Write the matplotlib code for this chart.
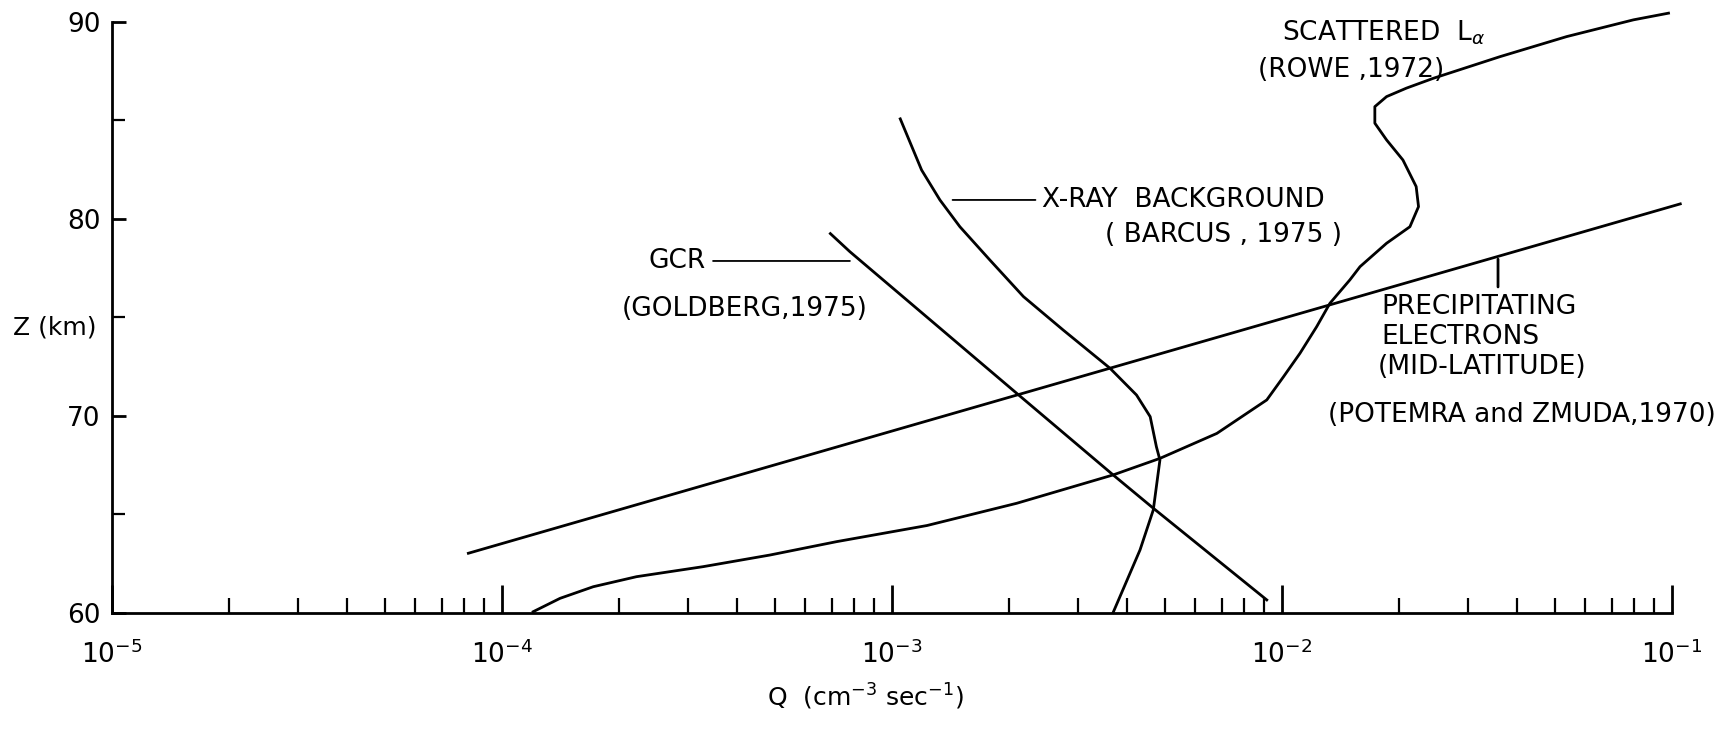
import matplotlib.pyplot as plt
from matplotlib import font_manager
from matplotlib.ticker import FixedLocator, NullFormatter

# Data
precip_q = [8.20e-5, 1.180e-3, 3.62e-3, 1.05e-1]
precip_z = [63.01, 69.63, 72.41, 80.76]

gcr_q = [6.95e-4, 7.80e-4, 2.11e-3, 3.69e-3, 4.67e-3, 9.14e-3]
gcr_z = [79.25, 78.33, 71.06, 66.99, 65.31, 60.64]

xray_q = [1.050e-3, 1.191e-3, 1.327e-3, 1.493e-3, 1.782e-3, 2.173e-3, 2.748e-3,
          3.622e-3, 4.236e-3, 4.592e-3, 4.764e-3, 4.864e-3, 4.677e-3, 4.325e-3, 3.690e-3]
xray_z = [85.08, 82.48, 80.96, 79.60, 77.91, 76.05, 74.35,
          72.41, 71.05, 69.95, 68.42, 67.75, 65.21, 63.18, 60.0]

lya_q = [1.202e-4, 1.409e-4, 1.714e-4, 2.213e-4, 3.281e-4, 4.864e-4, 7.211e-4,
         1.230e-3, 2.089e-3, 3.690e-3, 4.864e-3, 6.808e-3, 9.141e-3, 1.009e-2,
         1.112e-2, 1.227e-2, 1.327e-2, 1.493e-2, 1.585e-2, 1.854e-2, 2.128e-2,
         2.239e-2, 2.208e-2, 2.042e-2, 1.854e-2, 1.730e-2, 1.730e-2, 1.854e-2,
         2.084e-2, 2.443e-2, 3.622e-2, 5.370e-2, 7.962e-2, 9.795e-2]
lya_z = [60.04, 60.72, 61.31, 61.82, 62.33, 62.92, 63.60,
         64.42, 65.55, 66.99, 67.83, 69.10, 70.80, 71.98,
         73.17, 74.52, 75.71, 76.90, 77.57, 78.76, 79.60,
         80.62, 81.64, 82.99, 84.01, 84.86, 85.70, 86.21,
         86.64, 87.14, 88.24, 89.26, 90.11, 90.45]

x_major = [1e-5, 1e-4, 1e-3, 1e-2, 1e-1]
x_labels = ['$10^{-5}$', '$10^{-4}$', '$10^{-3}$', '$10^{-2}$', '$10^{-1}$']
y_major = [60, 70, 80, 90]
y_minor = [65, 75, 85]

# narrow lettering if available
names = {f.name for f in font_manager.fontManager.ttflist}
lettering = 'Liberation Sans Narrow' if 'Liberation Sans Narrow' in names else 'DejaVu Sans'

fig = plt.figure(figsize=(17.2, 7.29), dpi=100)
ax = fig.add_axes([0.0651, 0.1598, 0.907, 0.810])

lw = 2.0
for q, z in [(precip_q, precip_z), (gcr_q, gcr_z), (xray_q, xray_z), (lya_q, lya_z)]:
    ax.plot(q, z, color='black', lw=lw, clip_on=False, solid_joinstyle='round')

ax.set_xscale('log')
ax.set_xlim(1e-5, 1e-1)
ax.set_ylim(60, 90)

for s in ['top', 'right']:
    ax.spines[s].set_visible(False)
for s in ['left', 'bottom']:
    ax.spines[s].set_linewidth(2.0)

minor_x = [m * d for d in [1e-5, 1e-4, 1e-3, 1e-2] for m in range(2, 10)]
ax.xaxis.set_major_locator(FixedLocator(x_major))
ax.xaxis.set_minor_locator(FixedLocator(minor_x))
ax.set_xticklabels(x_labels)
ax.xaxis.set_minor_formatter(NullFormatter())
ax.set_yticks(y_major)
ax.set_yticks(y_minor, minor=True)
ax.set_yticklabels([str(v) for v in y_major])

ax.tick_params(axis='x', which='major', direction='in', length=20, width=2.0, pad=20, labelsize=19)
ax.tick_params(axis='x', which='minor', direction='in', length=11, width=1.6)
ax.tick_params(axis='y', which='major', direction='in', length=10, width=2.0, pad=8, labelsize=19)
ax.tick_params(axis='y', which='minor', direction='in', length=9, width=1.6)

ax.set_ylabel('Z (km)', rotation=0, ha='left', va='center', fontsize=18, family=lettering)
ax.yaxis.set_label_coords(-0.0635, 0.4835)
ax.set_xlabel('Q  (cm$^{-3}$ sec$^{-1}$)', va='center', fontsize=18, family=lettering)
ax.xaxis.set_label_coords(0.4827, -0.143)

tk = dict(fontsize=19, family=lettering, va='center', ha='left')
ax.text(1.0e-2, 89.45, 'SCATTERED  L$_\\alpha$', **tk)
ax.text(8.67e-3, 87.57, '(ROWE ,1972)', **tk)
ax.annotate('X-RAY  BACKGROUND', xy=(1.43e-3, 80.96), xytext=(2.43e-3, 80.96),
            arrowprops=dict(arrowstyle='-', lw=1.3, shrinkA=3, shrinkB=0), **tk)
ax.text(3.52e-3, 79.18, '( BARCUS , 1975 )', **tk)
ax.annotate('GCR', xy=(7.8e-4, 77.86), xytext=(2.38e-4, 77.86),
            arrowprops=dict(arrowstyle='-', lw=1.3, shrinkA=3, shrinkB=0), **tk)
ax.text(2.03e-4, 75.42, '(GOLDBERG,1975)', **tk)
ax.text(1.80e-2, 75.52, 'PRECIPITATING', **tk)
ax.text(1.80e-2, 74.0, 'ELECTRONS', **tk)
ax.text(1.76e-2, 72.48, '(MID-LATITUDE)', **tk)
ax.text(1.31e-2, 70.04, '(POTEMRA and ZMUDA,1970)', **tk)
ax.annotate('', xy=(3.58e-2, 77.95), xytext=(3.58e-2, 76.54),
            arrowprops=dict(arrowstyle='-', lw=2.0, shrinkA=0, shrinkB=0))

fig.savefig('out.png', dpi=100)
